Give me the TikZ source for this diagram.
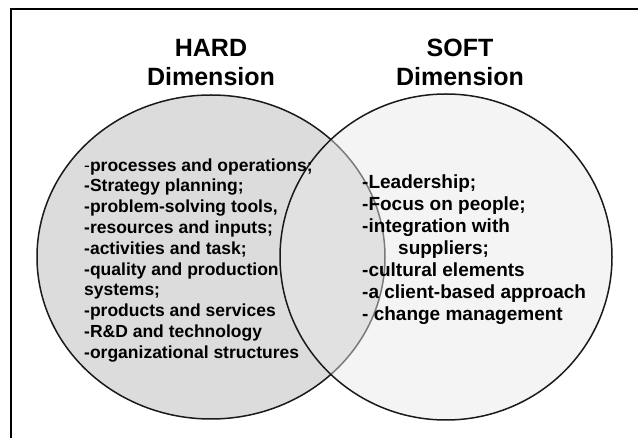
\documentclass[tikz,border=0pt]{standalone}
\usepackage{fontspec}
\setmainfont{Liberation Sans}
\usepackage{xcolor}
\usepackage{tikz}
\usetikzlibrary{shapes.geometric, positioning}

\definecolor{hardfill}{HTML}{DCDCDC}
\definecolor{softfill}{HTML}{E8E8E8}
\definecolor{rim}{HTML}{1A1A1A}

\begin{document}
\begin{tikzpicture}[
    x=1pt, y=-1pt,
    set/.style={draw=rim, line width=1.5pt, ellipse, inner sep=0pt},
    title/.style={align=center, inner sep=0pt, anchor=north, font=\bfseries\fontsize{25}{29}\selectfont},
    items/.style={align=left, inner sep=0pt, anchor=north west, font=\bfseries}
]
\useasboundingbox (0,0) rectangle (638,438);
\draw[line width=2pt] (11,460) -- (11,9) -- (660,9);

\node[set, fill=hardfill, minimum width=348pt, minimum height=324pt] (hard) at (211,257) {};
\node[set, fill=softfill, fill opacity=0.47, minimum width=332pt, minimum height=326pt] (soft) at (446,257) {};

\node[title] (hardtitle) at (211,39) {HARD\\Dimension};
\node[title] (softtitle) at (460,39) {SOFT\\Dimension};

\node[items, font=\bfseries\fontsize{17.5}{20.8}\selectfont] (hardlist) at (84,158.3) {{\mdseries -}processes and operations;\\
-Strategy planning;\\
-problem-solving tools,\\
-resources and inputs;\\
-activities and task;\\
-quality and production\\
systems;\\
-products and services\\
-R\&D and technology\\
-organizational structures};

\node[items, font=\bfseries\fontsize{19}{22}\selectfont] (softlist) at (362,174.3) {-Leadership;\\
-Focus on people;\\
-integration with\\
\hspace*{36pt}suppliers;\\
-cultural elements\\
-a client-based approach\\
- change management};
\end{tikzpicture}
\end{document}
